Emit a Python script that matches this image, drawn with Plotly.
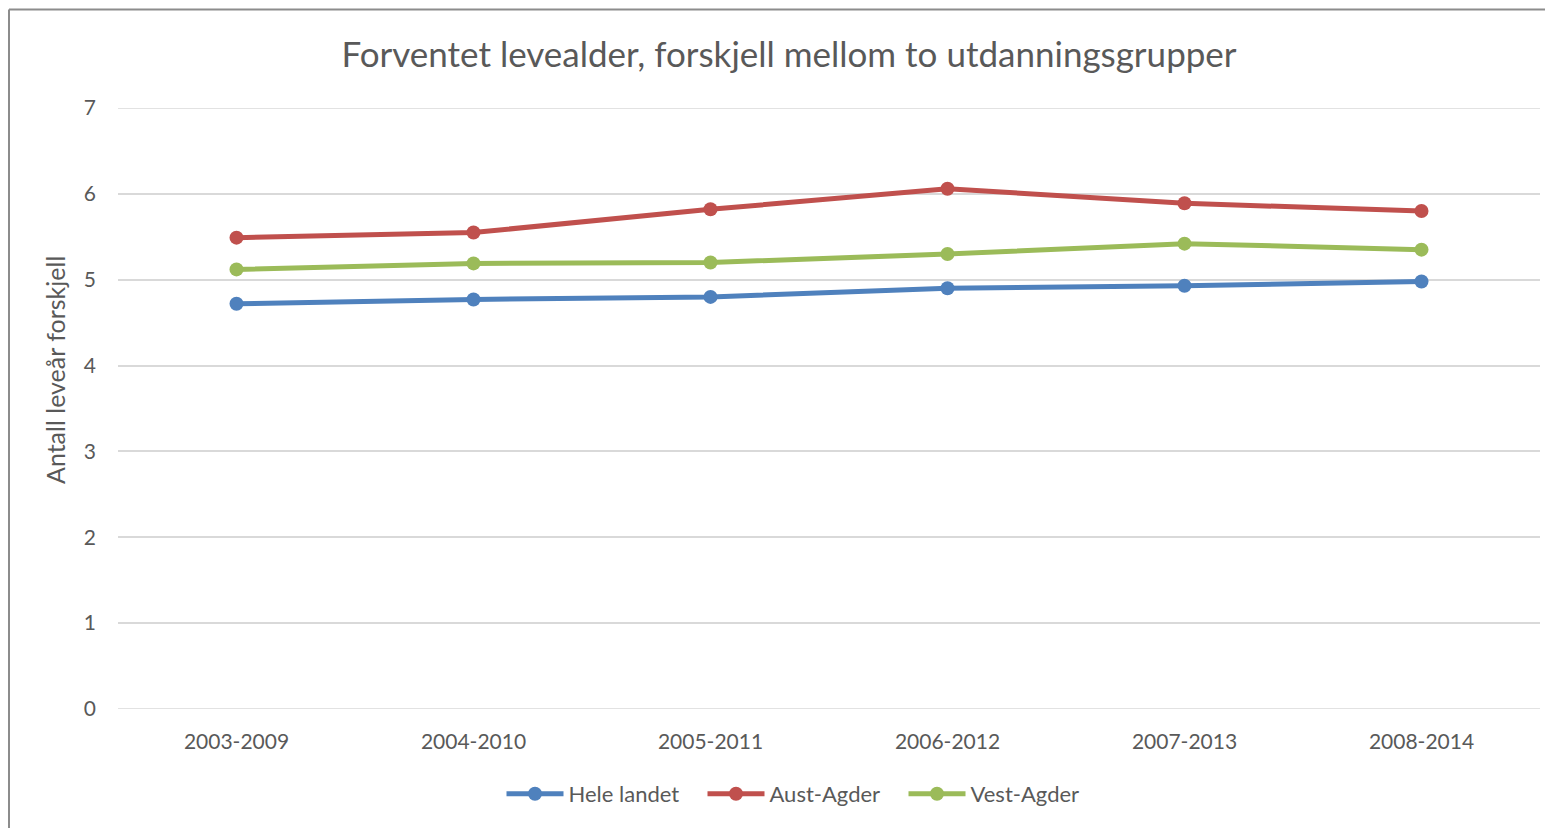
import plotly.graph_objects as go

periods = ["2003-2009", "2004-2010", "2005-2011", "2006-2012", "2007-2013", "2008-2014"]
hele_landet = [4.72, 4.77, 4.80, 4.90, 4.93, 4.98]
aust_agder = [5.49, 5.55, 5.82, 6.06, 5.89, 5.80]
vest_agder = [5.12, 5.19, 5.20, 5.30, 5.42, 5.35]
y_ticks = [0, 1, 2, 3, 4, 5, 6, 7]

series = [
    ("Hele landet", hele_landet, "#4F81BD"),
    ("Aust-Agder", aust_agder, "#C0504D"),
    ("Vest-Agder", vest_agder, "#9BBB59"),
]

FONT = "Lato, 'Open Sans', sans-serif"
TXT = "#595959"
GRID = "#D9D9D9"

W, H = 1545, 820
L, R, T, B = 110, 13, 100, 119
PW = W - L - R
PH = H - T - B

fig = go.Figure()
for name, vals, col in series:
    fig.add_trace(go.Scatter(
        x=periods, y=vals, name=name, mode="lines+markers",
        line=dict(color=col, width=5),
        marker=dict(color=col, size=14),
    ))

# gridlines at the range edges (plotly hides them otherwise)
for v in (y_ticks[0], y_ticks[-1]):
    fig.add_hline(y=v, line=dict(color=GRID, width=1.5), layer="below")

fig.update_layout(
    width=W, height=H,
    margin=dict(l=L, r=R, t=T, b=B),
    paper_bgcolor="white", plot_bgcolor="white",
    font=dict(family=FONT, color=TXT),
    title=dict(text="Forventet levealder, forskjell mellom to utdanningsgrupper",
               x=(789 - 8) / W, xanchor="center", y=1 - 47 / H, yanchor="middle",
               font=dict(size=35, color=TXT, family=FONT)),
    showlegend=True,
    legend=dict(orientation="h", x=(803 - 8 - L) / PW, xanchor="center",
                y=-(794 - 8 - T - PH) / PH, yanchor="middle",
                font=dict(size=22, color=TXT, family=FONT), itemwidth=57,
                entrywidth=129, entrywidthmode="pixels",
                traceorder="normal", tracegroupgap=0),
    xaxis=dict(type="category", range=[-0.5, 5.5], showgrid=False, showline=False,
               zeroline=False, ticks="", tickfont=dict(size=21, color=TXT, family=FONT),
               ticklabelstandoff=18),
    yaxis=dict(range=[y_ticks[0], y_ticks[-1]], tickvals=y_ticks, showgrid=True,
               gridcolor=GRID, gridwidth=1.5,
               zeroline=False, showline=False, ticks="",
               tickfont=dict(size=21, color=TXT, family=FONT), ticklabelstandoff=21),
)

fig.add_annotation(text="Antall leveår forskjell", textangle=-90, showarrow=False,
                   xref="paper", yref="paper", x=(47 - L) / PW, y=(709 - 370) / PH,
                   xanchor="center", yanchor="middle",
                   font=dict(size=25, color=TXT, family=FONT))

# chart border (top and left visible in the reference)
x0 = (1 - L) / PW
y0 = 1 + (T - 1.5) / PH
x1 = 1 + R / PW
fig.add_shape(type="line", xref="paper", yref="paper", x0=x0, x1=x1, y0=y0, y1=y0,
              line=dict(color="#8C8C8C", width=2))
fig.add_shape(type="line", xref="paper", yref="paper", x0=x0, x1=x0, y0=y0, y1=-0.3,
              line=dict(color="#8C8C8C", width=2))

fig.write_html("out.html")
